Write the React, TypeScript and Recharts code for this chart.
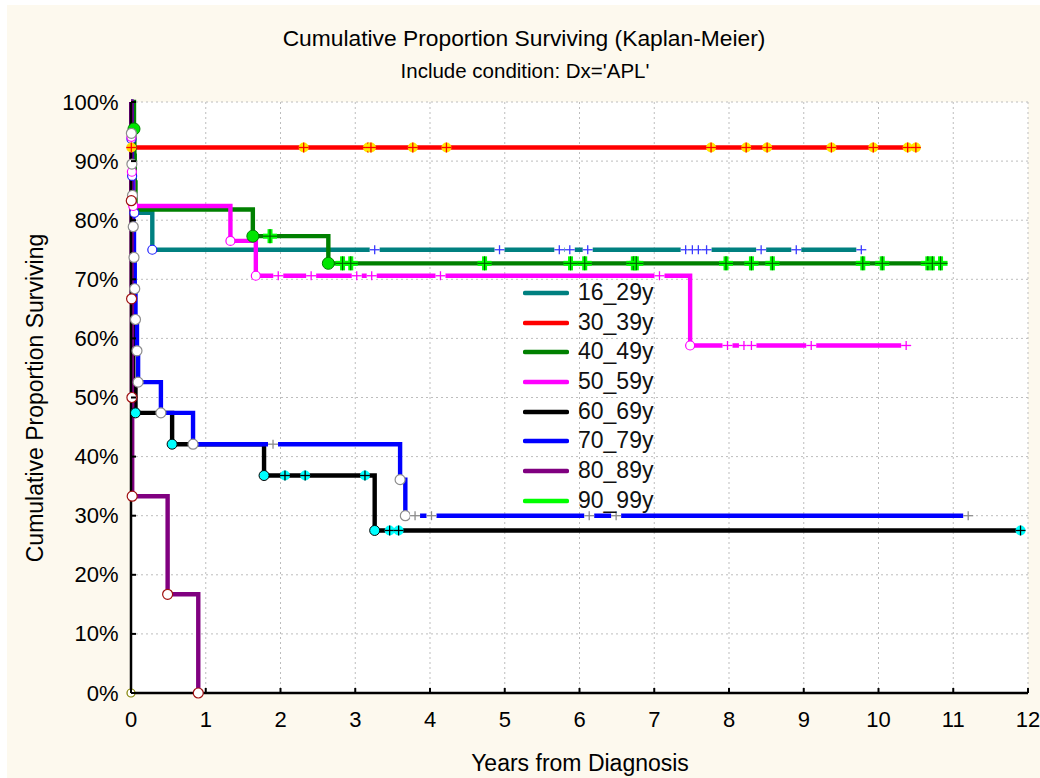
import React from 'react';
import { LineChart, Line, XAxis, YAxis, CartesianGrid, Legend } from 'recharts';

const FONT = '"Liberation Sans", Arial, sans-serif';

const xTicks = [0, 1, 2, 3, 4, 5, 6, 7, 8, 9, 10, 11, 12];
const yTicks = [0, 10, 20, 30, 40, 50, 60, 70, 80, 90, 100];

const groupNames = ['16_29y', '30_39y', '40_49y', '50_59y', '60_69y', '70_79y', '80_89y', '90_99y'];
const groupColors = ['#008080', '#ff0000', '#008000', '#ff00ff', '#000000', '#0000ff', '#800080', '#00ff00'];

// years from diagnosis, % surviving, mark: n = none, e = event, c = censored
const t1629 = [0, 0.006, 0.015, 0.045, 0.285, 3.26, 4.93, 5.73, 5.87, 6.11, 7.42, 7.51, 7.59, 7.7, 8.43, 8.9, 9.77];
const s1629 = [100, 93.75, 87.5, 81.25, 75, 75, 75, 75, 75, 75, 75, 75, 75, 75, 75, 75, 75];
const k1629 = ['n', 'e', 'e', 'e', 'e', 'c', 'c', 'c', 'c', 'c', 'c', 'c', 'c', 'c', 'c', 'c', 'c'];

const t3039 = [0, 0.004, 2.31, 3.17, 3.21, 3.77, 4.22, 7.76, 8.23, 8.51, 9.37, 9.93, 10.39, 10.5];
const s3039 = [100, 92.3, 92.3, 92.3, 92.3, 92.3, 92.3, 92.3, 92.3, 92.3, 92.3, 92.3, 92.3, 92.3];
const k3039 = ['n', 'e', 'c', 'c', 'c', 'c', 'c', 'c', 'c', 'c', 'c', 'c', 'c', 'c'];

const t4049 = [0, 0.04, 0.045, 0.05, 0.06, 1.63, 1.86, 2.64, 2.83, 2.94, 4.73, 5.88, 6.07, 6.72, 6.76, 7.96, 8.3, 8.58, 9.79, 10.05, 10.66, 10.72, 10.83];
const s4049 = [100, 95.45, 90.9, 86.4, 81.8, 77.3, 77.3, 72.7, 72.7, 72.7, 72.7, 72.7, 72.7, 72.7, 72.7, 72.7, 72.7, 72.7, 72.7, 72.7, 72.7, 72.7, 72.7];
const k4049 = ['n', 'e', 'n', 'n', 'n', 'e', 'c', 'e', 'c', 'c', 'c', 'c', 'c', 'c', 'c', 'c', 'c', 'c', 'c', 'c', 'c', 'c', 'c'];

const t5059 = [0, 0.005, 0.012, 0.03, 1.33, 1.67, 1.97, 2.41, 3.02, 3.22, 4.14, 7.07, 7.48, 7.98, 8.2, 8.3, 9.1, 10.37];
const s5059 = [100, 94.1, 88.2, 82.4, 76.5, 70.6, 70.6, 70.6, 70.6, 70.6, 70.6, 70.6, 58.8, 58.8, 58.8, 58.8, 58.8, 58.8];
const k5059 = ['n', 'e', 'e', 'e', 'e', 'e', 'c', 'c', 'c', 'c', 'c', 'c', 'e', 'c', 'c', 'c', 'c', 'c'];

const t6069 = [0, 0.003, 0.006, 0.009, 0.012, 0.015, 0.018, 0.021, 0.024, 0.03, 0.06, 0.55, 1.78, 2.06, 2.33, 3.13, 3.26, 3.46, 3.58, 11.9];
const s6069 = [100, 94.7, 89.5, 84.2, 78.9, 73.7, 68.4, 63.2, 57.9, 52.6, 47.4, 42.1, 36.8, 36.8, 36.8, 36.8, 27.5, 27.5, 27.5, 27.5];
const k6069 = ['n', 'n', 'n', 'n', 'n', 'n', 'n', 'n', 'n', 'n', 'e', 'e', 'e', 'c', 'c', 'c', 'e', 'c', 'c', 'c'];

const t7079 = [0, 0.005, 0.012, 0.02, 0.03, 0.04, 0.05, 0.06, 0.08, 0.095, 0.4, 0.83, 1.9, 3.6, 3.67, 3.8, 4.02, 6.13, 6.49, 11.2];
const s7079 = [100, 94.7, 89.5, 84.2, 78.9, 73.7, 68.4, 63.2, 57.9, 52.6, 47.4, 42.1, 42.1, 36.1, 30, 30, 30, 30, 30, 30];
const k7079 = ['n', 'e', 'e', 'e', 'e', 'e', 'e', 'e', 'e', 'e', 'e', 'e', 'c', 'e', 'e', 'c', 'c', 'c', 'c', 'c'];

const t8089 = [0, 0.004, 0.008, 0.012, 0.016, 0.49, 0.9];
const s8089 = [100, 83.3, 66.7, 50, 33.3, 16.7, 0];
const k8089 = ['n', 'e', 'e', 'e', 'e', 'e', 'e'];

const t9099 = [0];
const s9099 = [0];
const k9099 = ['e'];

const build = (t: number[], s: number[], k: string[]) =>
  t.map((x, i) => ({ t: x, v: s[i], k: k[i] }));

const groupData = [
  build(t1629, s1629, k1629),
  build(t3039, s3039, k3039),
  build(t4049, s4049, k4049),
  build(t5059, s5059, k5059),
  build(t6069, s6069, k6069),
  build(t7079, s7079, k7079),
  build(t8089, s8089, k8089),
  build(t9099, s9099, k9099),
];

function openCircle(cx: number, cy: number, color: string, r = 4.5) {
  return <circle cx={cx} cy={cy} r={r} fill="#fff" stroke={color} strokeWidth={1.2} />;
}

function thinPlus(cx: number, cy: number, color: string) {
  return (
    <g>
      <rect x={cx - 5} y={cy - 3} width={10} height={6} fill="#fff" />
      <line x1={cx - 5} x2={cx + 5} y1={cy} y2={cy} stroke={color} strokeWidth={1.3} />
      <line x1={cx} x2={cx} y1={cy - 4.5} y2={cy + 4.5} stroke={color} strokeWidth={1.3} />
    </g>
  );
}

function crossCircle(cx: number, cy: number, fill: string, cross: string) {
  return (
    <g>
      <circle cx={cx} cy={cy} r={5} fill={fill} />
      <line x1={cx - 5} x2={cx + 5} y1={cy} y2={cy} stroke={cross} strokeWidth={1.3} />
      <line x1={cx} x2={cx} y1={cy - 5} y2={cy + 5} stroke={cross} strokeWidth={1.3} />
    </g>
  );
}

function drawMark(group: string, kind: string, cx: number, cy: number) {
  if (kind === 'e') {
    switch (group) {
      case '16_29y': return openCircle(cx, cy, '#2020ff');
      case '30_39y': return crossCircle(cx, cy, '#ffd800', '#ff0000');
      case '40_49y': return <circle cx={cx} cy={cy} r={6} fill="#00e600" stroke="#008000" strokeWidth={1} />;
      case '50_59y': return openCircle(cx, cy, '#ff00ff');
      case '60_69y': return <circle cx={cx} cy={cy} r={5} fill="#00ffff" stroke="#000" strokeWidth={1} />;
      case '70_79y': return openCircle(cx, cy, '#8c8c8c', 5);
      case '80_89y': return openCircle(cx, cy, '#a01010', 5);
      default: return openCircle(cx, cy, '#808000', 4);
    }
  }
  switch (group) {
    case '16_29y': return thinPlus(cx, cy, '#3a3aff');
    case '30_39y': return crossCircle(cx, cy, '#ffe600', '#ff0000');
    case '40_49y':
      return (
        <g>
          <line x1={cx - 7} x2={cx + 7} y1={cy} y2={cy} stroke="#00ff00" strokeWidth={5} />
          <line x1={cx} x2={cx} y1={cy - 7} y2={cy + 7} stroke="#00ff00" strokeWidth={5} />
          <line x1={cx - 7} x2={cx + 7} y1={cy} y2={cy} stroke="#006400" strokeWidth={1.2} />
          <line x1={cx} x2={cx} y1={cy - 7} y2={cy + 7} stroke="#006400" strokeWidth={1.2} />
        </g>
      );
    case '50_59y': return thinPlus(cx, cy, '#ff00ff');
    case '60_69y': return crossCircle(cx, cy, '#00ffff', '#000');
    default: return thinPlus(cx, cy, '#8c8c8c');
  }
}

const BottomTick = (p: any) => (
  <g>
    <line x1={p.x} x2={p.x} y1={p.y} y2={p.y - 5} stroke="#000" strokeWidth={2} />
    <text x={p.x} y={p.y + 33.5} textAnchor="middle" fontSize={22} fontFamily={FONT} fill="#000">
      {p.payload.value}
    </text>
  </g>
);

const TopTick = (p: any) => (
  <line x1={p.x} x2={p.x} y1={p.y} y2={p.y + 5} stroke="#000" strokeWidth={2} />
);

const LeftTick = (p: any) => (
  <g>
    <line x1={p.x} x2={p.x + 5} y1={p.y} y2={p.y} stroke="#000" strokeWidth={2} />
    <text x={p.x - 12.5} y={p.y + 7.5} textAnchor="end" fontSize={22} fontFamily={FONT} fill="#000">
      {p.payload.value + '%'}
    </text>
  </g>
);

const RightTick = (p: any) => (
  <line x1={p.x} x2={p.x - 5} y1={p.y} y2={p.y} stroke="#000" strokeWidth={2} />
);

const renderLegend = () => (
  <div style={{ fontFamily: FONT, fontSize: 23, color: '#111' }}>
    {groupNames.map((name, i) => (
      <div key={name} style={{ display: 'flex', alignItems: 'center', height: 29.7 }}>
        <svg width={46} height={8}>
          <line x1={2} x2={44} y1={4} y2={4} stroke={groupColors[i]} strokeWidth={4.5} strokeLinecap="round" />
        </svg>
        <span style={{ marginLeft: 9, lineHeight: '29.7px' }}>{name}</span>
      </div>
    ))}
  </div>
);

export default function App() {
  return (
    <div style={{ position: 'absolute', left: 0, top: 0, width: 1040, height: 778, background: '#fff' }}>
      <div style={{ position: 'absolute', left: 7, top: 5, width: 1033, height: 773, background: '#fdf9ee' }}>
        <LineChart width={1033} height={773} margin={{ top: 97, right: 12, left: 0, bottom: 0 }}>
          <CartesianGrid stroke="#bdbdbd" strokeDasharray="2 3" fill="#fff" fillOpacity={1} />
          <XAxis
            dataKey="t"
            type="number"
            domain={[0, 12]}
            ticks={xTicks}
            interval={0}
            height={85}
            tickSize={0}
            tickMargin={0}
            tickLine={false}
            axisLine={{ stroke: '#000', strokeWidth: 2.5 }}
            tick={(p: any) => <BottomTick {...p} />}
          />
          <XAxis
            xAxisId="top"
            orientation="top"
            type="number"
            domain={[0, 12]}
            ticks={xTicks}
            interval={0}
            height={0}
            tickSize={0}
            tickMargin={0}
            tickLine={false}
            axisLine={{ stroke: '#000', strokeWidth: 2 }}
            tick={(p: any) => <TopTick {...p} />}
          />
          <YAxis
            type="number"
            domain={[0, 100]}
            ticks={yTicks}
            interval={0}
            width={124}
            tickSize={0}
            tickMargin={0}
            tickLine={false}
            axisLine={{ stroke: '#000', strokeWidth: 2.5 }}
            tick={(p: any) => <LeftTick {...p} />}
          />
          <YAxis
            yAxisId="right"
            orientation="right"
            type="number"
            domain={[0, 100]}
            ticks={yTicks}
            interval={0}
            width={0}
            tickSize={0}
            tickMargin={0}
            tickLine={false}
            axisLine={{ stroke: '#000', strokeWidth: 2 }}
            tick={(p: any) => <RightTick {...p} />}
          />
          {groupNames.map((name, i) => (
            <Line
              key={name}
              data={groupData[i]}
              dataKey="v"
              name={name}
              type="stepAfter"
              stroke={groupColors[i]}
              strokeWidth={4.4}
              isAnimationActive={false}
              activeDot={false}
              dot={(p: any) => (
                <g key={`${name}-${p.index}`}>
                  {p.payload.k === 'n' ? null : drawMark(name, p.payload.k, p.cx, p.cy)}
                </g>
              )}
            />
          ))}
          <Legend
            layout="vertical"
            align="center"
            verticalAlign="middle"
            wrapperStyle={{ left: 516, top: 273, width: 170 }}
            content={renderLegend}
          />
        </LineChart>
        <svg
          width={1033}
          height={773}
          style={{ position: 'absolute', left: 0, top: 0, pointerEvents: 'none' }}
          fontFamily={FONT}
          fill="#000"
        >
          <text x={517} y={41} textAnchor="middle" fontSize={22.8}>
            Cumulative Proportion Surviving (Kaplan-Meier)
          </text>
          <text x={518} y={73} textAnchor="middle" fontSize={20.5}>
            Include condition: Dx='APL'
          </text>
          <text x={573} y={766} textAnchor="middle" fontSize={23}>
            Years from Diagnosis
          </text>
          <text x={36} y={393} textAnchor="middle" fontSize={23} transform="rotate(-90 36 393)">
            Cumulative Proportion Surviving
          </text>
        </svg>
      </div>
    </div>
  );
}
